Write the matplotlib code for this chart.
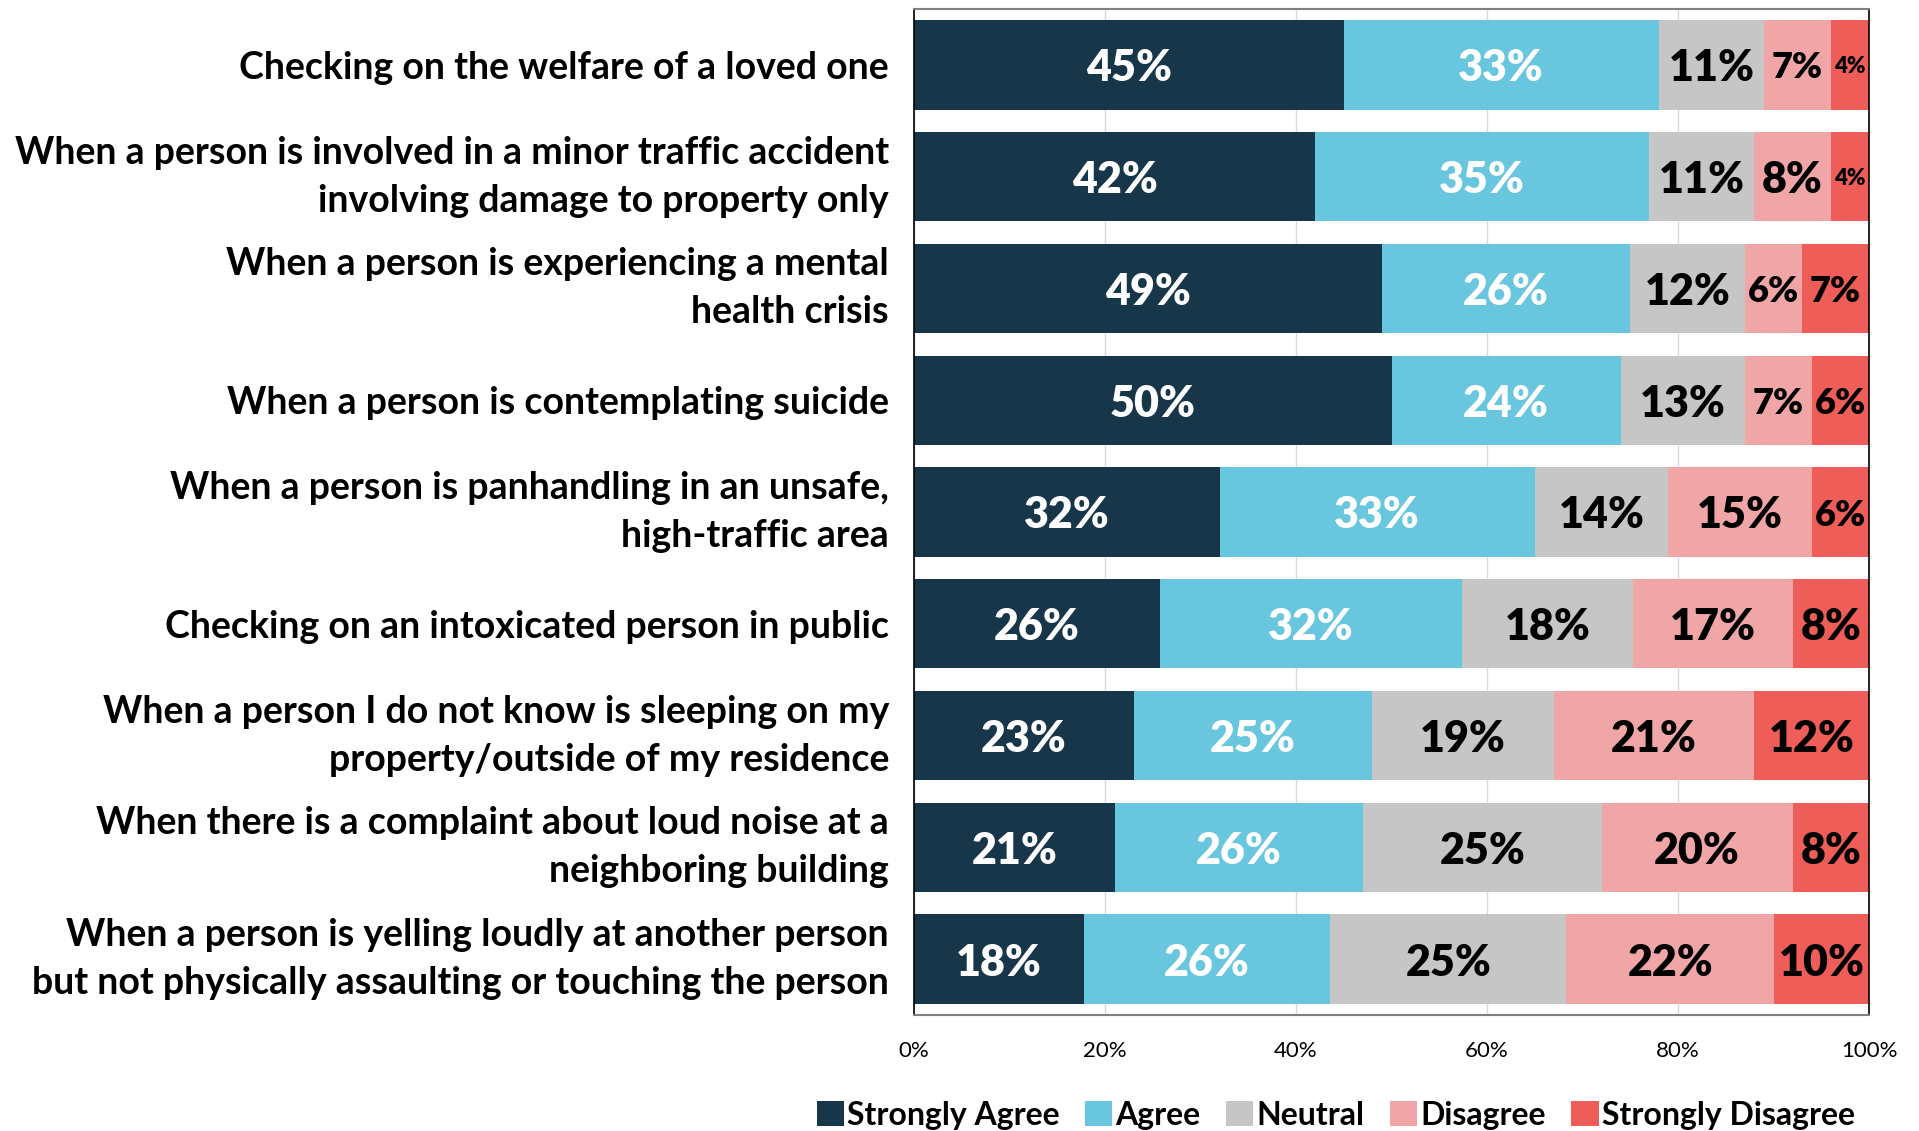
import numpy as np
import matplotlib
matplotlib.use("Agg")
import matplotlib.pyplot as plt
from matplotlib.patches import Patch

categories = [
    "Checking on the welfare of a loved one",
    "When a person is involved in a minor traffic accident\ninvolving damage to property only",
    "When a person is experiencing a mental\nhealth crisis",
    "When a person is contemplating suicide",
    "When a person is panhandling in an unsafe,\nhigh-traffic area",
    "Checking on an intoxicated person in public",
    "When a person I do not know is sleeping on my\nproperty/outside of my residence",
    "When there is a complaint about loud noise at a\nneighboring building",
    "When a person is yelling loudly at another person\nbut not physically assaulting or touching the person",
]
series = ["Strongly Agree", "Agree", "Neutral", "Disagree", "Strongly Disagree"]
strongly_agree = [45, 42, 49, 50, 32, 26, 23, 21, 18]
agree = [33, 35, 26, 24, 33, 32, 25, 26, 26]
neutral = [11, 11, 12, 13, 14, 18, 19, 25, 25]
disagree = [7, 8, 6, 7, 15, 17, 21, 20, 22]
strongly_disagree = [4, 4, 7, 6, 6, 8, 12, 8, 10]
xticks = [0, 20, 40, 60, 80, 100]

colors = ["#17364A", "#68C6DF", "#C6C6C6", "#F0A6A6", "#EE5D58"]
text_colors = ["white", "white", "black", "black", "black"]

plt.rcParams["font.family"] = ["Lato", "DejaVu Sans"]

data = np.array([strongly_agree, agree, neutral, disagree, strongly_disagree], dtype=float)
# bar widths scaled so every row fills 100%
widths = data / data.sum(axis=0) * 100

fig = plt.figure(figsize=(19.19, 11.31), dpi=100)
ax = fig.add_axes([914 / 1919, 1 - 1015 / 1131, 955 / 1919, 1006 / 1131])

y = np.arange(len(categories))
left = np.zeros(len(categories))
for i, name in enumerate(series):
    ax.barh(y, widths[i], left=left, height=0.8, color=colors[i], label=name, zorder=2)
    for j in range(len(categories)):
        v = data[i, j]
        if v <= 4:
            fs = 16
        elif v <= 7:
            fs = 26
        else:
            fs = 31
        ax.text(left[j] + widths[i, j] / 2, y[j], f"{v:.0f}%", ha="center", va="center_baseline",
                color=text_colors[i], fontsize=fs, fontweight="heavy", zorder=3)
    left += widths[i]

ax.set_ylim(len(categories) - 0.5, -0.5)
ax.set_xlim(0, 100)
ax.set_yticks(y)
ax.set_yticklabels(categories, fontsize=27, fontweight="bold", linespacing=1.5)
for lbl in ax.get_yticklabels():
    # two-line labels centre on the bar, one-line ones sit on the baseline centre
    if "\n" in lbl.get_text():
        lbl.set_verticalalignment("center")
ax.set_xticks(xticks)
ax.set_xticklabels([f"{t}%" for t in xticks], fontsize=16)
ax.tick_params(axis="both", length=0)
ax.tick_params(axis="x", pad=19)
ax.tick_params(axis="y", pad=18)
ax.grid(axis="x", color="#D9D9D9", linewidth=1, zorder=0)
for side in ["top", "bottom"]:
    ax.spines[side].set_color("#808080")
    ax.spines[side].set_linewidth(1.5)
for side in ["left", "right"]:
    ax.spines[side].set_color("black")
    ax.spines[side].set_linewidth(1.2)

handles = [Patch(facecolor=c, label=s) for c, s in zip(colors, series)]
fig.legend(handles=handles, loc="center", bbox_to_anchor=(0.696, 0.014), ncol=5,
           frameon=False, prop={"size": 23, "weight": "bold"},
           handlelength=0.85, handleheight=0.85, handletextpad=0.1, columnspacing=0.8)

fig.savefig("out.png", dpi=100)
